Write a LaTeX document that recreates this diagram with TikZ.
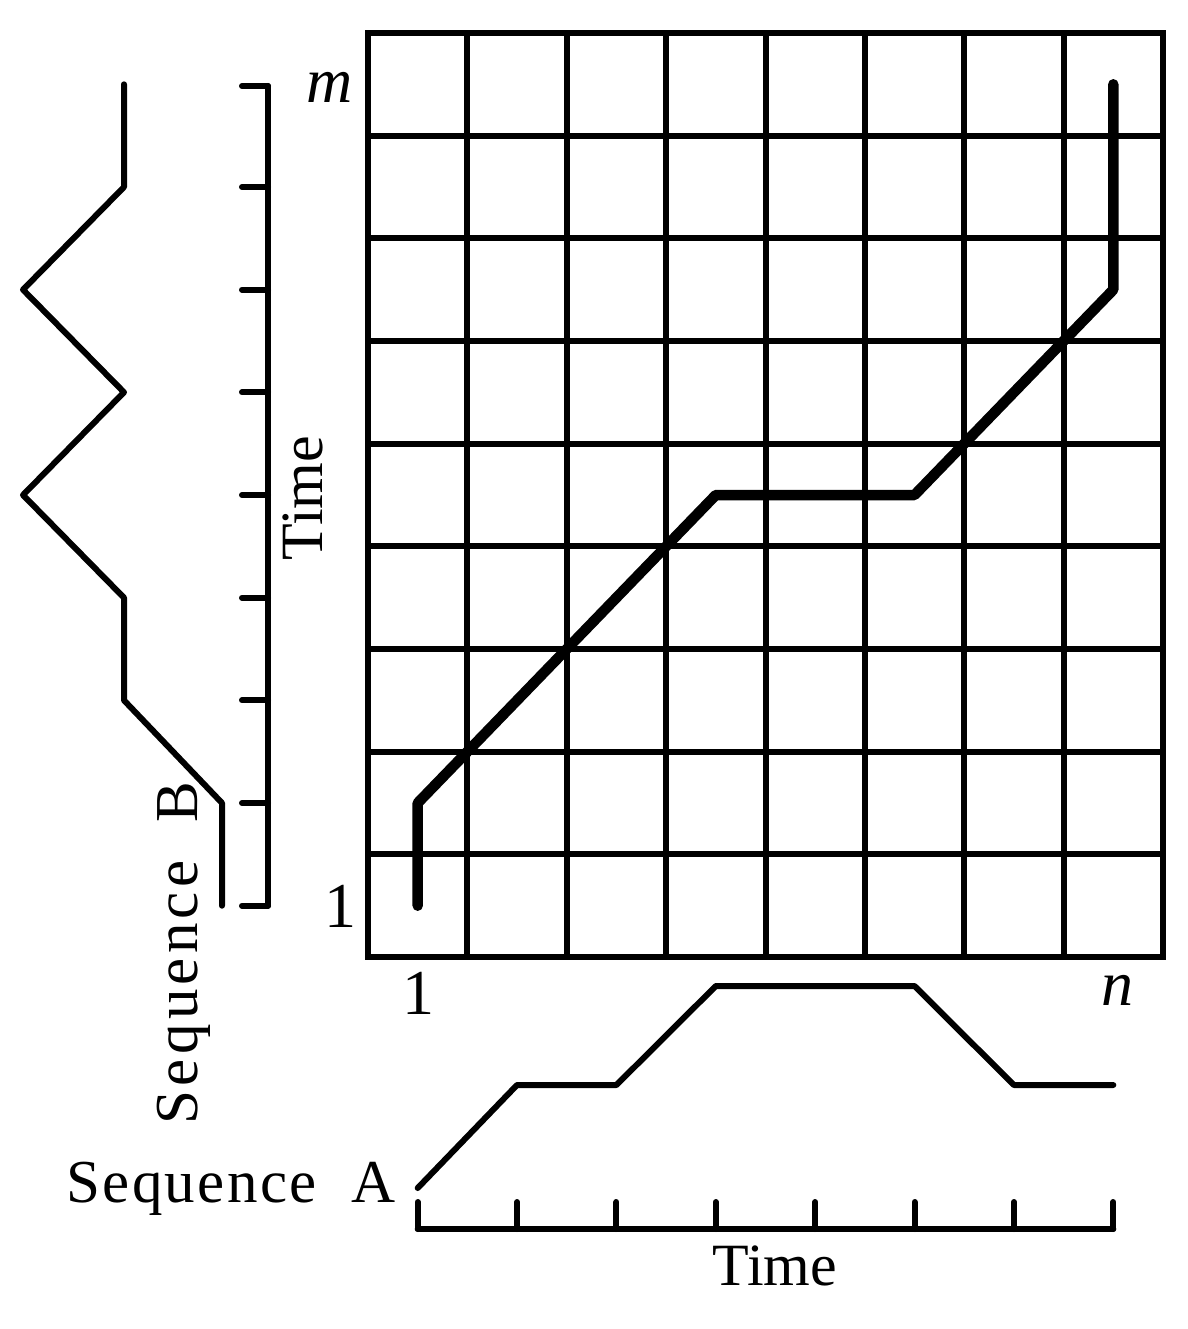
\documentclass[tikz,border=0pt]{standalone}
\usepackage{fontspec}
\setmainfont{Liberation Serif}
\begin{document}
\begin{tikzpicture}[x=1pt,y=-1pt,
  thin line/.style={line width=6pt,line cap=round,line join=round},
  warp/.style={line width=10.5pt,line cap=round,line join=round},
  lbl/.style={inner sep=0pt,font=\fontsize{60}{60}\selectfont},
  numlbl/.style={inner sep=0pt,font=\fontsize{64}{64}\selectfont},
  seqlbl/.style={inner sep=0pt,font=\fontsize{61}{61}\selectfont\addfontfeature{LetterSpace=4}},
  seqlblb/.style={inner sep=0pt,font=\fontsize{61}{61}\selectfont\addfontfeature{LetterSpace=7}}]
\useasboundingbox (0,0) rectangle (1187,1329);
% grid
\foreach \i in {0,...,8} {
  \draw[thin line,line cap=butt] ({368+\i*99.375},33) -- ({368+\i*99.375},957);
}
\foreach \j in {0,...,9} {
  \draw[thin line,line cap=butt] (368,{33+\j*102.67}) -- (1163,{33+\j*102.67});
}
\draw[thin line,line cap=butt,line join=miter] (368,33) rectangle (1163,957);
% warping path
\coordinate (p0) at (417.7,905.7);
\coordinate (p1) at (417.7,803);
\coordinate (p2) at (715.8,495);
\coordinate (p3) at (914.5,495);
\coordinate (p4) at (1113.3,289.7);
\coordinate (p5) at (1113.3,84.3);
\draw[warp] (p0) -- (p1) -- (p2) -- (p3) -- (p4) -- (p5);
% sequence B axis
\draw[thin line] (268,86) -- (268,905.7);
\foreach \y in {86,187,289.7,392.3,495,597.7,700.3,803,905.7} {
  \draw[thin line] (268,\y) -- (242,\y);
}
% sequence B curve
\draw[thin line] (222,905.7) -- (222,803) -- (124,700.3) -- (124,597.7) -- (23,495)
  -- (124,392.3) -- (23,289.7) -- (124,187) -- (124,84.3);
% sequence A axis
\draw[thin line] (417.7,1229) -- (1113.3,1229);
\foreach \i in {0,...,7} {
  \draw[thin line] ({417.7+\i*99.375},1229) -- ({417.7+\i*99.375},1202);
}
% sequence A curve
\draw[thin line] (417.7,1188) -- (517,1085) -- (616.4,1085) -- (715.8,986) -- (914.5,986)
  -- (1013.9,1085) -- (1113.3,1085);
% labels
\node[numlbl,anchor=base] (lm) at (330,103) {\textit{m}};
\node[numlbl,anchor=base] (l1y) at (340,927) {1};
\node[numlbl,anchor=base] (l1x) at (418,1014) {1};
\node[numlbl,anchor=base] (ln) at (1117,1005) {\textit{n}};
\node[lbl,anchor=base,rotate=90] (timey) at (322,498) {Time};
\node[lbl,anchor=base] (timex) at (775,1285) {Time};
\node[seqlbl,anchor=base west] (seqa) at (66,1202) {Sequence\hspace{34pt}A};
\node[seqlblb,anchor=base,rotate=90] (seqb) at (197,953) {Sequence\hspace{38pt}B};
\end{tikzpicture}
\end{document}
